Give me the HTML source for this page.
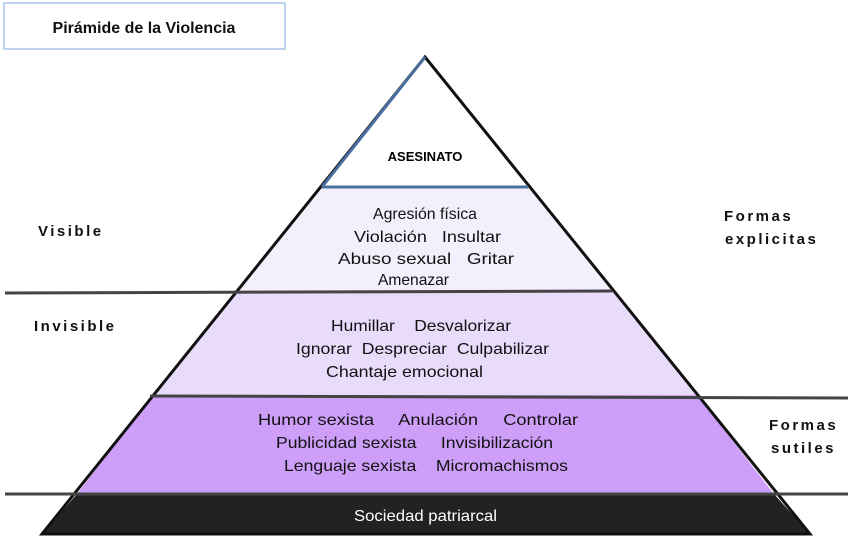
<!DOCTYPE html>
<html><head><meta charset="utf-8"><style>
html,body{margin:0;padding:0;background:#fff;}
svg text{font-family:"Liberation Sans",sans-serif;white-space:pre;}
</style></head><body>
<svg width="850" height="537" viewBox="0 0 850 537" xmlns="http://www.w3.org/2000/svg" xml:space="preserve">
<rect x="4" y="3" width="281" height="46" fill="#fff" stroke="#a9c6ea" stroke-width="1.5"/>
<text x="144" y="33" text-anchor="middle" font-size="16" font-weight="bold" fill="#111">Pirámide de la Violencia</text>
<polygon points="425,57 528,187 322,187" fill="#fff"/>
<polygon points="322,187 528,187 612,291 237,291" fill="#f4effc"/>
<polygon points="237,291 612,291 697,395 153,395" fill="#e9dcfb"/>
<polygon points="153,395 697,395 774,494 77,494" fill="#cd9ff8"/>
<polygon points="77,494 774,494 810,534 42,534" fill="#222"/>
<polygon points="425,57 810,534 42,534" fill="none" stroke="#111" stroke-width="3"/>
<polyline points="322,187 425,57" fill="none" stroke="#4a6f9f" stroke-width="3"/>
<line x1="322" y1="187" x2="528" y2="187" stroke="#4a6f9f" stroke-width="3"/>
<line x1="5" y1="293" x2="612" y2="291" stroke="#444" stroke-width="3"/>
<line x1="150" y1="396" x2="848" y2="398" stroke="#444" stroke-width="3"/>
<line x1="5" y1="494" x2="848" y2="494" stroke="#444" stroke-width="3"/>
<text x="425" y="161" text-anchor="middle" font-size="13" font-weight="bold">ASESINATO</text>
<g font-size="16" fill="#111" lengthAdjust="spacingAndGlyphs">
<text x="373" y="219" textLength="104" lengthAdjust="spacingAndGlyphs">Agresión física</text>
<text x="354" y="242" textLength="147" lengthAdjust="spacingAndGlyphs">Violación   Insultar</text>
<text x="338" y="264" textLength="176" lengthAdjust="spacingAndGlyphs">Abuso sexual   Gritar</text>
<text x="378" y="285" textLength="71" lengthAdjust="spacingAndGlyphs">Amenazar</text>
<text x="331" y="331" textLength="180" lengthAdjust="spacingAndGlyphs">Humillar    Desvalorizar</text>
<text x="296" y="354" textLength="253" lengthAdjust="spacingAndGlyphs">Ignorar  Despreciar  Culpabilizar</text>
<text x="326" y="377" textLength="157" lengthAdjust="spacingAndGlyphs">Chantaje emocional</text>
<text x="258" y="425" textLength="320" lengthAdjust="spacingAndGlyphs">Humor sexista     Anulación     Controlar</text>
<text x="276" y="448" textLength="277" lengthAdjust="spacingAndGlyphs">Publicidad sexista     Invisibilización</text>
<text x="284" y="471" textLength="284" lengthAdjust="spacingAndGlyphs">Lenguaje sexista    Micromachismos</text>
<text x="354" y="521" textLength="143" lengthAdjust="spacingAndGlyphs" fill="#fff">Sociedad patriarcal</text>
</g>
<g font-size="15" font-weight="bold" letter-spacing="2.5" fill="#111">
<text x="38" y="236">Visible</text>
<text x="34" y="331">Invisible</text>
<text x="724" y="221">Formas</text>
<text x="725" y="244">explicitas</text>
<text x="769" y="430">Formas</text>
<text x="771" y="453">sutiles</text>
</g>
</svg>
</body></html>
